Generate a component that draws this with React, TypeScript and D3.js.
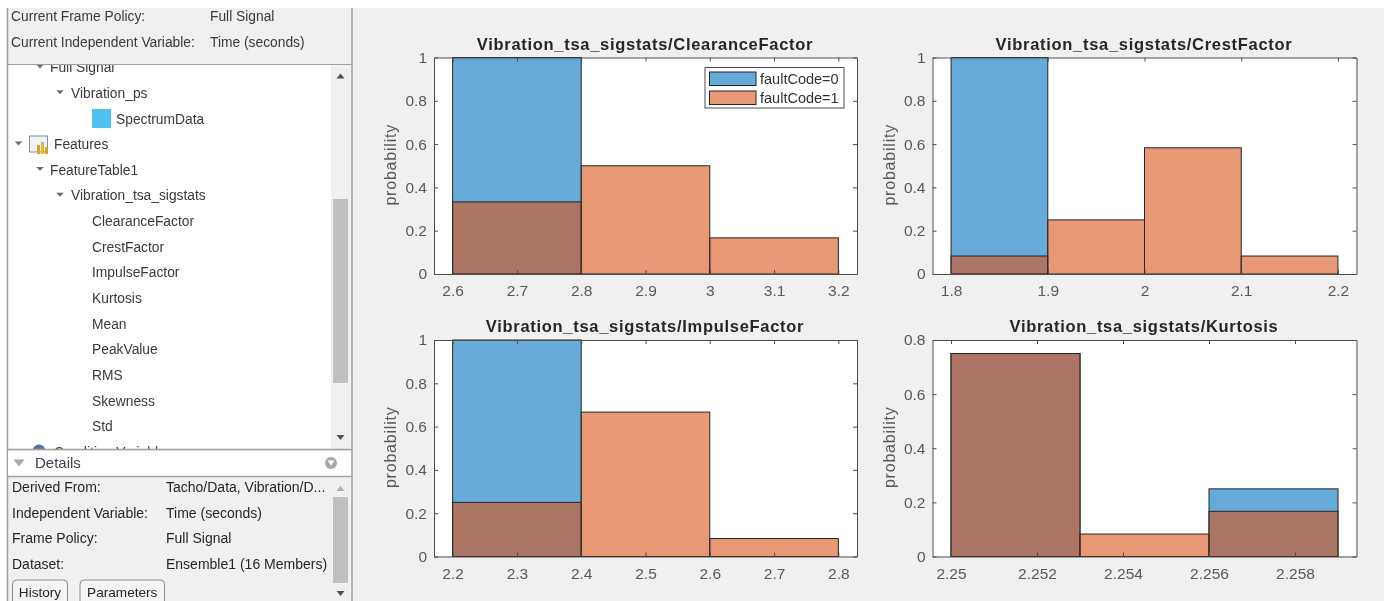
import * as d3 from 'd3';
import React, { useEffect, useRef } from 'react';

// histogram panels
const clearanceEdges = [2.6, 2.8, 3, 3.2];
const clearanceFault0 = [1, 0, 0];
const clearanceFault1 = [0.333, 0.5, 0.167];
const clearanceTicks = [2.6, 2.7, 2.8, 2.9, 3, 3.1, 3.2];

const crestEdges = [1.8, 1.9, 2, 2.1, 2.2];
const crestFault0 = [1, 0, 0, 0];
const crestFault1 = [0.083, 0.25, 0.583, 0.083];
const crestTicks = [1.8, 1.9, 2, 2.1, 2.2];

const impulseEdges = [2.2, 2.4, 2.6, 2.8];
const impulseFault0 = [1, 0, 0];
const impulseFault1 = [0.25, 0.667, 0.083];
const impulseTicks = [2.2, 2.3, 2.4, 2.5, 2.6, 2.7, 2.8];

const kurtosisEdges = [2.25, 2.253, 2.256, 2.259];
const kurtosisFault0 = [0.75, 0, 0.25];
const kurtosisFault1 = [0.75, 0.083, 0.167];
const kurtosisTicks = [2.25, 2.252, 2.254, 2.256, 2.258];

const yTicksUnit = [0, 0.2, 0.4, 0.6, 0.8, 1];
const yTicksKurtosis = [0, 0.2, 0.4, 0.6, 0.8];
const legendLabels = ['faultCode=0', 'faultCode=1'];

const panels = [
  { title: 'Vibration_tsa_sigstats/ClearanceFactor', edges: clearanceEdges, f0: clearanceFault0, f1: clearanceFault1, xTicks: clearanceTicks, yTicks: yTicksUnit, xDomain: [2.571, 3.229], yMax: 1, box: [434, 857, 57.5, 274], legend: true },
  { title: 'Vibration_tsa_sigstats/CrestFactor', edges: crestEdges, f0: crestFault0, f1: crestFault1, xTicks: crestTicks, yTicks: yTicksUnit, xDomain: [1.7808, 2.2192], yMax: 1, box: [932.5, 1356.5, 57.5, 274], legend: false },
  { title: 'Vibration_tsa_sigstats/ImpulseFactor', edges: impulseEdges, f0: impulseFault0, f1: impulseFault1, xTicks: impulseTicks, yTicks: yTicksUnit, xDomain: [2.171, 2.829], yMax: 1, box: [434, 857, 340, 556.5], legend: false },
  { title: 'Vibration_tsa_sigstats/Kurtosis', edges: kurtosisEdges, f0: kurtosisFault0, f1: kurtosisFault1, xTicks: kurtosisTicks, yTicks: yTicksKurtosis, xDomain: [2.24957, 2.25943], yMax: 0.8, box: [932.5, 1356.5, 340, 556.5], legend: false },
];

// side panel
const headerRows = [['Current Frame Policy:', 'Full Signal'], ['Current Independent Variable:', 'Time (seconds)']];
const treeLabels = ['Full Signal', 'Vibration_ps', 'SpectrumData', 'Features', 'FeatureTable1', 'Vibration_tsa_sigstats', 'ClearanceFactor', 'CrestFactor', 'ImpulseFactor', 'Kurtosis', 'Mean', 'PeakValue', 'RMS', 'Skewness', 'Std', 'Condition Variables'];
const treeIndent = [50, 71, 116, 54, 50, 71, 92, 92, 92, 92, 92, 92, 92, 92, 92, 54];
const treeArrow = [40, 60, 0, 18.5, 40, 60, 0, 0, 0, 0, 0, 0, 0, 0, 0, 0];
const detailRows = [['Derived From:', 'Tacho/Data, Vibration/D...'], ['Independent Variable:', 'Time (seconds)'], ['Frame Policy:', 'Full Signal'], ['Dataset:', 'Ensemble1 (16 Members)']];
const buttonLabels = ['History', 'Parameters'];

const FONT = '"Liberation Sans", Arial, sans-serif';
const BLUE = '#0072BD';
const ORANGE = '#D95319';
const EDGE = '#262626';
const AXIS = '#4d4d4d';
const LABEL = '#595959';

const App = () => {
  const svgRef = useRef<SVGSVGElement>(null);

  useEffect(() => {
    const svg = d3.select(svgRef.current);
    svg.selectAll('*').remove();
    svg.attr('font-family', FONT);

    svg.append('rect').attr('width', 1384).attr('height', 601).attr('fill', '#ffffff');
    svg.append('rect').attr('x', 7).attr('y', 8).attr('width', 1377).attr('height', 593).attr('fill', '#f0f0f0');

    drawSidePanel(svg);
    panels.forEach(p => drawPanel(svg, p));
  }, []);

  // the reference is a soft, rescaled screenshot, hence the slight blur
  return <svg ref={svgRef} width={1384} height={601} style={{ position: 'absolute', left: 0, top: 0, display: 'block', filter: 'blur(0.4px)' }}></svg>;
};

function drawPanel(svg, p) {
  const [left, right, top, bottom] = p.box;
  const x = d3.scaleLinear().domain(p.xDomain).range([left, right]);
  const y = d3.scaleLinear().domain([0, p.yMax]).range([bottom, top]);
  const g = svg.append('g');

  g.append('rect').attr('x', left).attr('y', top).attr('width', right - left).attr('height', bottom - top).attr('fill', '#fff');

  // fault code 0 first, fault code 1 lies on top of it
  [{ values: p.f0, color: BLUE }, { values: p.f1, color: ORANGE }].forEach(series => {
    g.append('g').selectAll('rect')
      .data(series.values.map((v, i) => ({ v, i })).filter(d => d.v > 0))
      .enter()
      .append('rect')
      .attr('x', d => x(p.edges[d.i]))
      .attr('y', d => y(d.v))
      .attr('width', d => x(p.edges[d.i + 1]) - x(p.edges[d.i]))
      .attr('height', d => y(0) - y(d.v))
      .attr('fill', series.color)
      .attr('fill-opacity', 0.6)
      .attr('stroke', EDGE)
      .attr('stroke-width', 1);
  });

  const styleAxis = sel => {
    sel.selectAll('path').attr('stroke', AXIS);
    sel.selectAll('line').attr('stroke', AXIS);
    sel.selectAll('text').attr('fill', LABEL).style('font-size', '15.5px').style('font-family', FONT);
  };

  g.append('g').attr('transform', `translate(0,${bottom})`)
    .call(d3.axisBottom(x).tickValues(p.xTicks).tickFormat(d => String(d)).tickSizeInner(-4).tickSizeOuter(0).tickPadding(11))
    .call(styleAxis);
  g.append('g').attr('transform', `translate(${left},0)`)
    .call(d3.axisLeft(y).tickValues(p.yTicks).tickFormat(d => String(d)).tickSizeInner(-4).tickSizeOuter(0).tickPadding(7))
    .call(styleAxis);
  g.append('g').attr('transform', `translate(0,${top})`)
    .call(d3.axisTop(x).tickValues(p.xTicks).tickFormat(() => '').tickSizeInner(-4).tickSizeOuter(0))
    .call(styleAxis);
  g.append('g').attr('transform', `translate(${right},0)`)
    .call(d3.axisRight(y).tickValues(p.yTicks).tickFormat(() => '').tickSizeInner(-4).tickSizeOuter(0))
    .call(styleAxis);

  g.append('text')
    .attr('x', (left + right) / 2 - 0.5)
    .attr('y', top - 8)
    .attr('text-anchor', 'middle')
    .attr('font-weight', 'bold')
    .attr('font-size', 16.5)
    .attr('letter-spacing', 0.7)
    .attr('fill', '#262626')
    .text(p.title);

  g.append('text')
    .attr('transform', `translate(${left - 38},${(top + bottom) / 2 - 1}) rotate(-90)`)
    .attr('text-anchor', 'middle')
    .attr('font-size', 16)
    .attr('letter-spacing', 0.8)
    .attr('fill', LABEL)
    .text('probability');

  if (p.legend) {
    const lg = g.append('g').attr('transform', `translate(${right - 152},${top + 10})`);
    lg.append('rect').attr('width', 139).attr('height', 40.5).attr('fill', '#fff').attr('stroke', AXIS);
    legendLabels.forEach((label, i) => {
      const rowY = 4.5 + i * 19;
      lg.append('rect').attr('x', 4.5).attr('y', rowY).attr('width', 46.5).attr('height', 13.5)
        .attr('fill', i === 0 ? BLUE : ORANGE).attr('fill-opacity', 0.6).attr('stroke', EDGE);
      lg.append('text').attr('x', 55).attr('y', rowY + 12).attr('font-size', 14.5).attr('fill', '#333').text(label);
    });
  }
}

function arrow(g, cx, cy, dir, color, w = 4.5, h = 4) {
  const pts = dir === 'up'
    ? [[cx - w, cy + h], [cx + w, cy + h], [cx, cy - h]]
    : [[cx - w, cy - h], [cx + w, cy - h], [cx, cy + h]];
  g.append('path').attr('d', d3.line()(pts) + 'Z').attr('fill', color);
}

function drawSidePanel(svg) {
  const g = svg.append('g');
  const textColor = '#3a3a3a';
  const textSize = 13.8;

  // header
  headerRows.forEach((row, i) => {
    const ty = 21 + i * 25.7;
    g.append('text').attr('x', 11).attr('y', ty).attr('font-size', textSize).attr('fill', textColor).text(row[0]);
    g.append('text').attr('x', 210).attr('y', ty).attr('font-size', textSize).attr('fill', textColor).text(row[1]);
  });

  // tree pane
  const clip = g.append('clipPath').attr('id', 'treeClip');
  clip.append('rect').attr('x', 8).attr('y', 65).attr('width', 343).attr('height', 384);
  g.append('rect').attr('x', 8).attr('y', 65).attr('width', 343).attr('height', 384).attr('fill', '#fff');
  g.append('rect').attr('x', 331).attr('y', 65).attr('width', 20).attr('height', 384).attr('fill', '#f0f0f0');
  g.append('rect').attr('x', 333).attr('y', 199).attr('width', 15).attr('height', 184).attr('fill', '#c0c0c0');
  arrow(g, 340.5, 76, 'up', '#505050', 4, 2.5);
  arrow(g, 340.5, 437.5, 'down', '#505050', 4, 2.5);

  const tree = g.append('g').attr('clip-path', 'url(#treeClip)');
  treeLabels.forEach((label, i) => {
    const cy = 67 + i * 25.65;
    tree.append('text').attr('x', treeIndent[i]).attr('y', cy + 5.2).attr('font-size', textSize).attr('fill', textColor).text(label);
    if (treeArrow[i]) arrow(tree, treeArrow[i], cy - 0.5, 'down', '#707070', 3.8, 2);
  });

  // tree icons
  tree.append('rect').attr('x', 92).attr('y', 109).attr('width', 19).attr('height', 19).attr('fill', '#4fc1ef');
  tree.append('rect').attr('x', 29.5).attr('y', 136).attr('width', 18).attr('height', 16).attr('fill', '#eef3f8').attr('stroke', '#7f8fa0');
  tree.append('rect').attr('x', 37).attr('y', 145).attr('width', 3).attr('height', 9).attr('fill', '#d9a520');
  tree.append('rect').attr('x', 41).attr('y', 142).attr('width', 3).attr('height', 12).attr('fill', '#e3b92f');
  tree.append('rect').attr('x', 45).attr('y', 147).attr('width', 3).attr('height', 7).attr('fill', '#d9a520');
  tree.append('circle').attr('cx', 39).attr('cy', 451).attr('r', 6.5).attr('fill', '#50749a');

  // borders
  [[7.5, 8, 7.5, 601], [352, 8, 352, 601]].forEach(l => {
    g.append('line').attr('x1', l[0]).attr('y1', l[1]).attr('x2', l[2]).attr('y2', l[3]).attr('stroke', '#a0a0a0').attr('stroke-width', 1.5);
  });
  g.append('line').attr('x1', 7).attr('x2', 352).attr('y1', 64.5).attr('y2', 64.5).attr('stroke', '#a0a0a0');
  g.append('line').attr('x1', 7).attr('x2', 352).attr('y1', 449.5).attr('y2', 449.5).attr('stroke', '#a0a0a0').attr('stroke-width', 1.5);

  // details header
  g.append('rect').attr('x', 8).attr('y', 451).attr('width', 343).attr('height', 25).attr('fill', '#fff');
  g.append('line').attr('x1', 7).attr('x2', 352).attr('y1', 476.5).attr('y2', 476.5).attr('stroke', '#a0a0a0').attr('stroke-width', 1.5);
  arrow(g, 19, 463, 'down', '#a8a8a8', 5.5, 3.5);
  g.append('text').attr('x', 35).attr('y', 468).attr('font-size', 15).attr('fill', '#404050').text('Details');
  g.append('circle').attr('cx', 331).attr('cy', 463).attr('r', 6).attr('fill', '#a8a8a8');
  arrow(g, 331, 463, 'down', '#ffffff', 3.5, 2.5);

  // details pane
  detailRows.forEach((row, i) => {
    const ty = 492 + i * 25.7;
    g.append('text').attr('x', 12).attr('y', ty).attr('font-size', 14).attr('fill', '#262626').text(row[0]);
    g.append('text').attr('x', 166).attr('y', ty).attr('font-size', 14).attr('fill', '#262626').text(row[1]);
  });
  g.append('rect').attr('x', 333).attr('y', 497).attr('width', 15).attr('height', 86).attr('fill', '#c0c0c0');
  arrow(g, 340.5, 488.5, 'up', '#b0b0b0', 4, 2.5);
  arrow(g, 340.5, 593.5, 'down', '#505050', 4, 2.5);

  // buttons run off the bottom of the picture
  const buttonX = [12, 79.5];
  const buttonW = [55, 84.5];
  buttonLabels.forEach((label, i) => {
    g.append('rect').attr('x', buttonX[i] + 0.5).attr('y', 580).attr('width', buttonW[i]).attr('height', 26).attr('rx', 4)
      .attr('fill', '#f4f4f4').attr('stroke', '#8c8c8c');
    g.append('text').attr('x', buttonX[i] + buttonW[i] / 2 + 0.5).attr('y', 596.5).attr('text-anchor', 'middle')
      .attr('font-size', 13.6).attr('fill', '#262626').text(label);
  });
}

export default App;
